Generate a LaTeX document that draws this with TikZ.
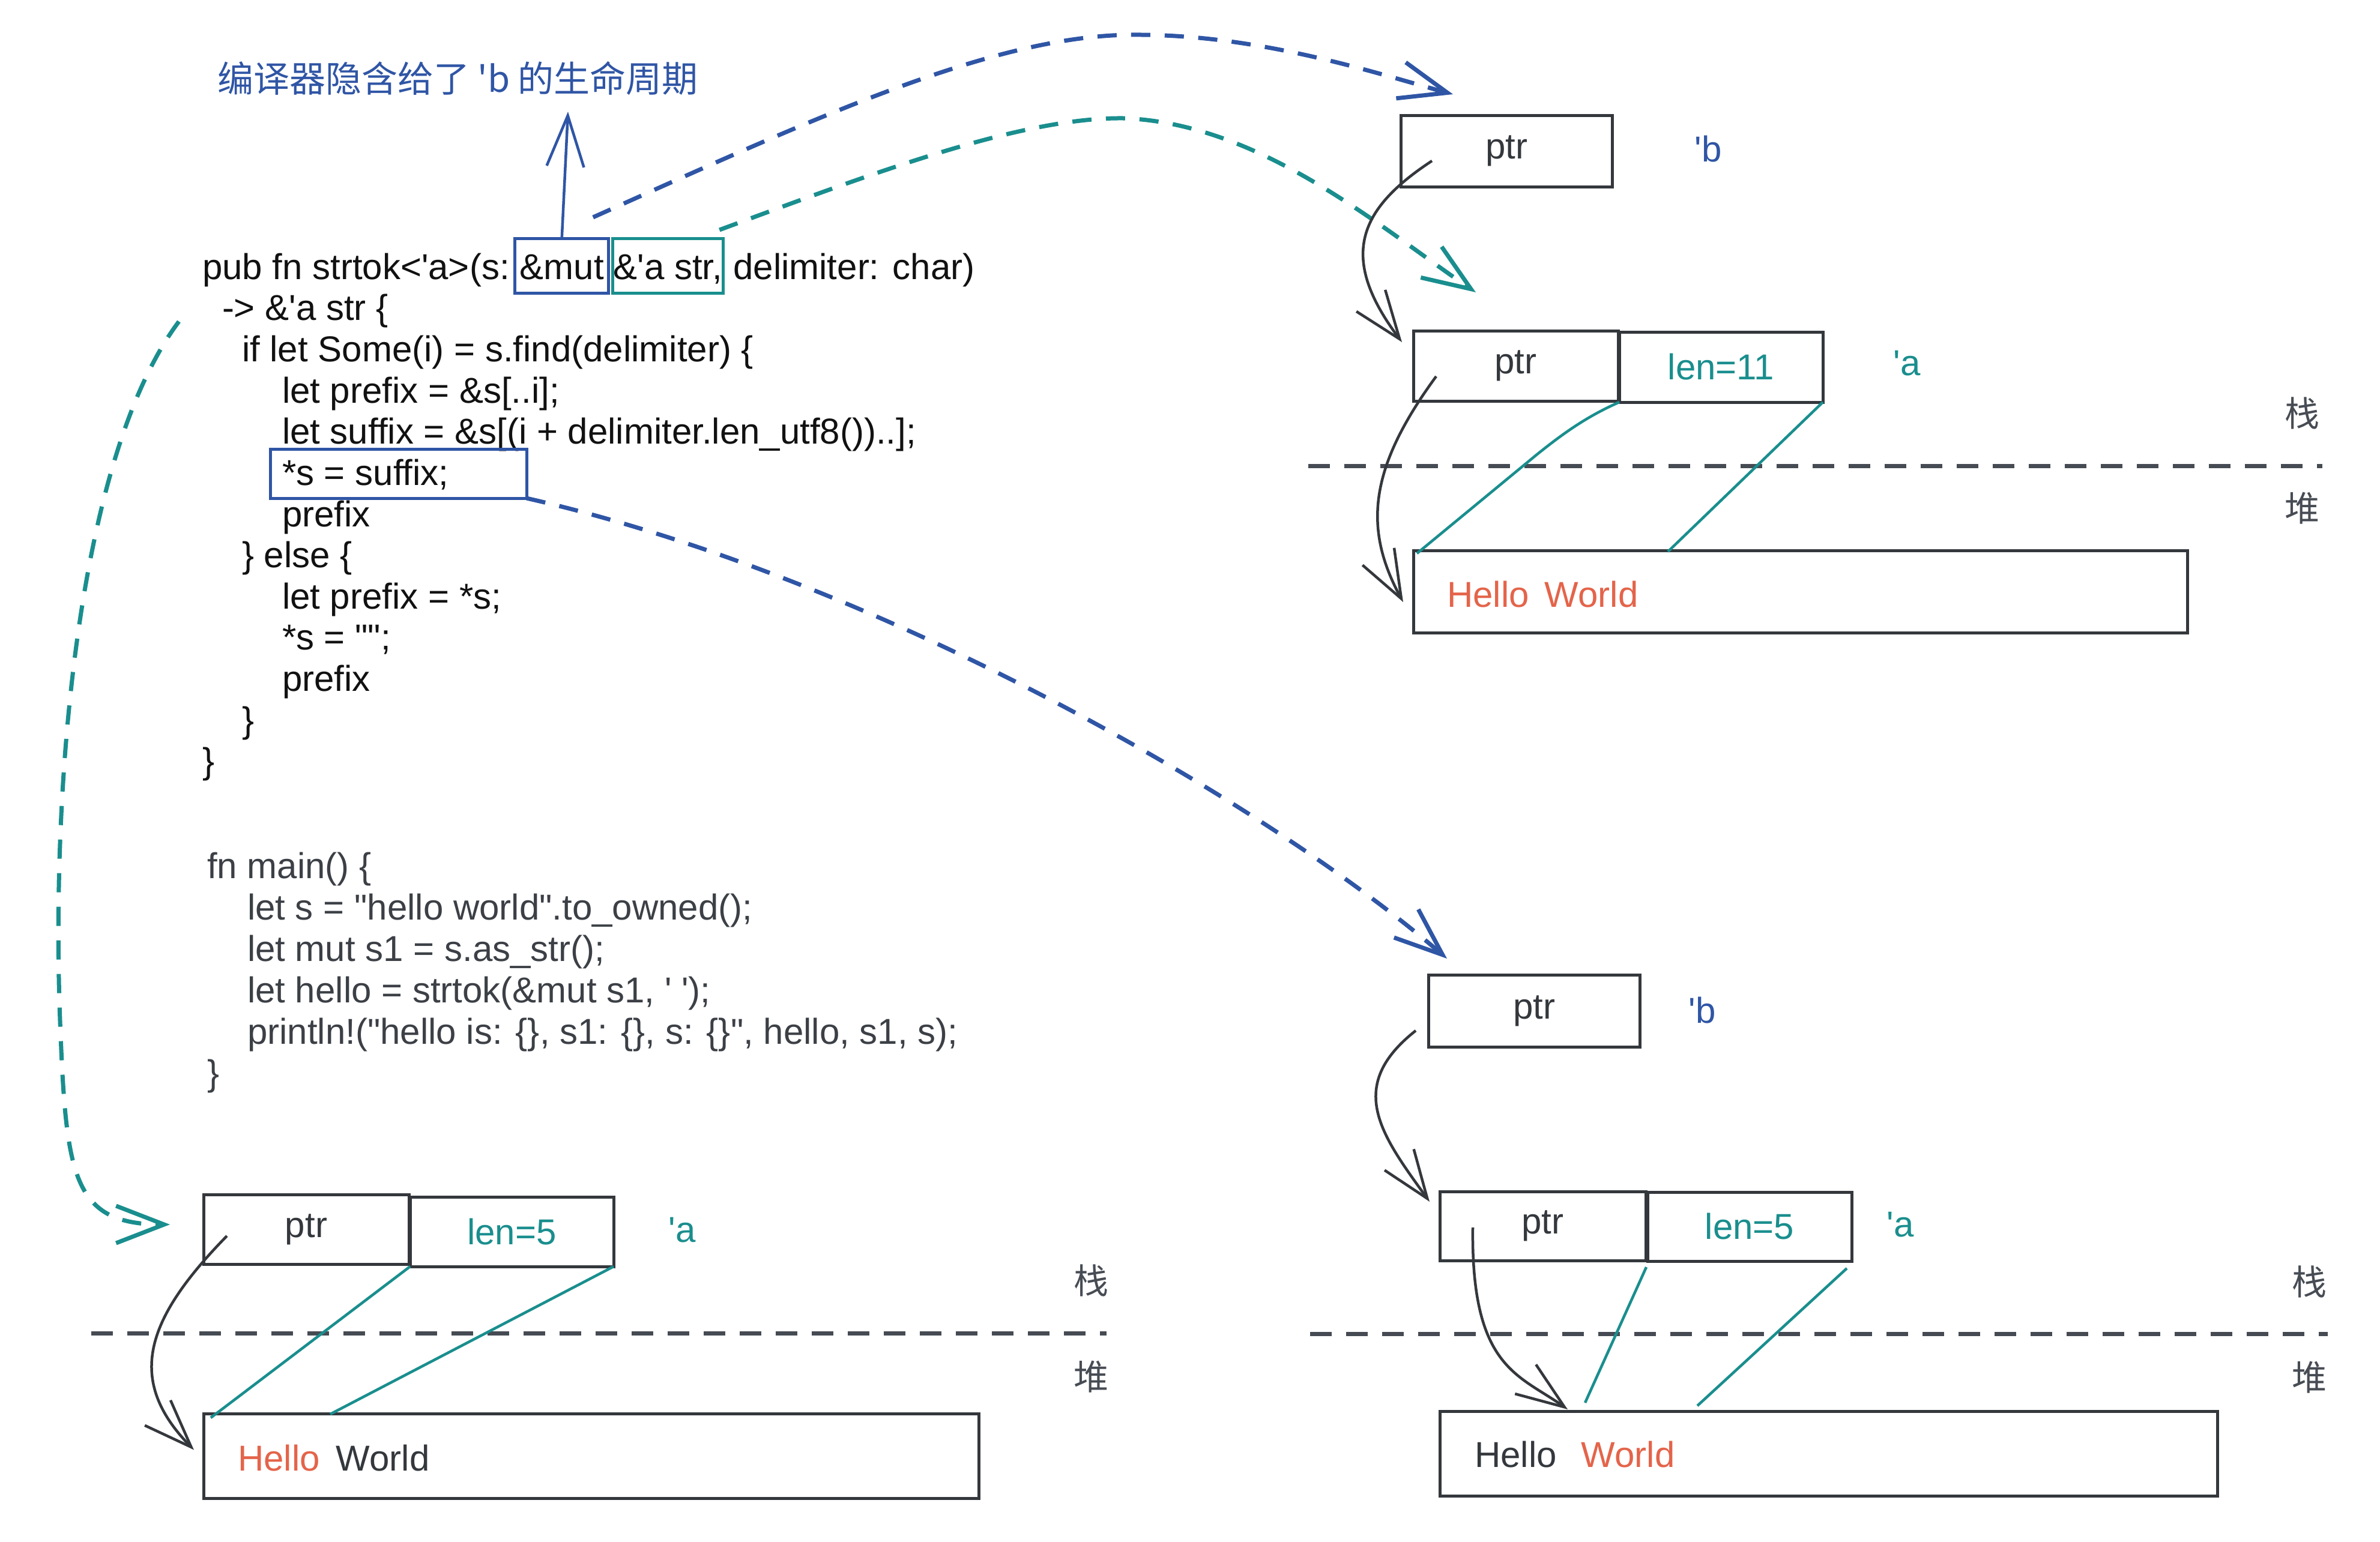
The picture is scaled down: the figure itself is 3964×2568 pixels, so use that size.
\documentclass[tikz,border=0pt]{standalone}
\usepackage{fontspec}
\usetikzlibrary{arrows.meta}
\newfontfamily\cf{Liberation Sans}
\newfontfamily\cjk{Noto Sans CJK SC}
\definecolor{myblue}{HTML}{2F55A5}
\definecolor{myteal}{HTML}{1A8E8E}
\definecolor{myorange}{HTML}{E4644A}
\definecolor{boxc}{HTML}{34383D}
\definecolor{codeblk}{HTML}{111111}
\definecolor{codegray}{HTML}{3C4046}
\definecolor{divc}{HTML}{464B53}
\definecolor{zhgray}{HTML}{474C54}
\begin{document}
\begin{tikzpicture}[x=1pt, y=-1pt,
 code/.style={font=\cf\fontsize{60}{72}\selectfont, anchor=base west, inner sep=0pt, outer sep=0pt, text=codeblk},
 codeg/.style={code, text=codegray},
 hibox/.style={draw=#1, line width=5pt, outer sep=0pt, inner ysep=0pt, text height=68pt, text depth=23pt},
 membox/.style={draw=boxc, line width=5pt, inner sep=0pt, outer sep=0pt, font=\cf\fontsize{60}{72}\selectfont, text=boxc},
 lbl/.style={font=\cf\fontsize{60}{72}\selectfont, inner sep=0pt, anchor=base},
 zh/.style={font=\cjk\fontsize{58}{70}\selectfont, inner sep=0pt, text=zhgray},
 divider/.style={draw=divc, line width=7pt, dash pattern=on 36pt off 24pt},
 bdash/.style={draw=myblue, line width=7pt, dash pattern=on 32pt off 24pt, -{Straight Barb[length=80pt,width=62pt]}},
 tdash/.style={bdash, draw=myteal},
 ptrarrow/.style={draw=boxc, line width=4.5pt, -{Straight Barb[length=80pt,width=60pt]}},
 tline/.style={draw=myteal, line width=4.5pt},
]
\useasboundingbox (0,0) rectangle (3964,2568);
\fill[white] (0,0) rectangle (3964,2568);

% title
\node[font=\cjk\fontsize{60}{72}\selectfont, text=myblue, inner sep=0pt, anchor=west] (title) at (362,131) {编译器隐含给了 'b 的生命周期};

% code block 1
\node[code] (c1a) at (337,465) {pub fn strtok<'a>(s:};
\node[code, hibox=myblue, inner xsep=8pt] (mutbox) at ([xshift=9pt]c1a.base east) {\&mut};
\node[code, hibox=myteal, inner xsep=1pt] (strbox) at ([xshift=7pt]mutbox.base east) {\&'a str,};
\node[code] (c1d) at ([xshift=17pt]strbox.base east) {delimiter: char)};
\node[code] (c2) at (370,533.6) {-> \&'a str \{};
\node[code] (c3) at (403,602) {if let Some(i) = s.find(delimiter) \{};
\node[code] (c4) at (470,671) {let prefix = \&s[..i];};
\node[code] (c5) at (470,739) {let suffix = \&s[(i + delimiter.len\_utf8())..];};
\node[code] (c6) at (470,808) {*s = suffix;};
\node[code] (c7) at (470,877) {prefix};
\node[code] (c8) at (403,945) {\} else \{};
\node[code] (c9) at (470,1014) {let prefix = *s;};
\node[code] (c10) at (470,1082) {*s = "";};
\node[code] (c11) at (470,1151) {prefix};
\node[code] (c12) at (403,1220) {\}};
\node[code] (c13) at (337,1288) {\}};
\node[draw=myblue, line width=5pt, inner sep=0pt, outer sep=0pt, anchor=north west, minimum width=427pt, minimum height=82pt] (sbox) at (450,748) {};

% code block 2
\node[codeg] (m1) at (345,1463) {fn main() \{};
\node[codeg] (m2) at (412,1532) {let s = "hello world".to\_owned();};
\node[codeg] (m3) at (412,1601) {let mut s1 = s.as\_str();};
\node[codeg] (m4) at (412,1670) {let hello = strtok(\&mut s1, ' ');};
\node[codeg] (m5) at (412,1739) {println!("hello is: \{\}, s1: \{\}, s: \{\}", hello, s1, s);};
\node[codeg] (m6) at (345,1808) {\}};

% top-right memory
\node[membox, minimum width=352pt, minimum height=119pt] (ptrB1) at (2509,251.5) {ptr};
\node[lbl, text=myblue] (lb1) at (2845,269) {'b};
\node[membox, minimum width=341pt, minimum height=117pt] (ptrA1) at (2524.5,609.5) {ptr};
\node[membox, minimum width=339pt, minimum height=117pt, text=myteal] (lenA1) at (2866.5,611.5) {len=11};
\node[lbl, text=myteal] (la1) at (3176,625) {'a};
\node[zh] (zhs1) at (3834,688) {栈};
\node[zh] (zhh1) at (3834,847) {堆};
\draw[divider] (2179,776) -- (3868,776);
\node[membox, minimum width=1289pt, minimum height=137pt] (heap1) at (2998.5,985.5) {};
\node[lbl, anchor=base west, text=myorange] (hw1) at (2410,1011) {Hello\hspace{26pt}World};

% bottom-left memory
\node[membox, minimum width=342pt, minimum height=116pt] (ptrL) at (510,2048) {ptr};
\node[membox, minimum width=339pt, minimum height=116pt, text=myteal] (lenL) at (852.5,2052) {len=5};
\node[lbl, text=myteal] (laL) at (1136,2069) {'a};
\node[zh] (zhsL) at (1817,2133) {栈};
\node[zh] (zhhL) at (1817,2294) {堆};
\draw[divider] (152,2221) -- (1843,2221);
\node[membox, minimum width=1291pt, minimum height=141pt] (heapL) at (984.5,2425.5) {};
\node[lbl, anchor=base west, text=boxc] (hwL) at (396,2450) {\textcolor{myorange}{Hello}\hspace{27pt}World};

% bottom-right memory
\node[membox, minimum width=352pt, minimum height=120pt] (ptrB2) at (2555,1684) {ptr};
\node[lbl, text=myblue] (lb2) at (2835,1704) {'b};
\node[membox, minimum width=343pt, minimum height=115pt] (ptrA2) at (2569.5,2042.5) {ptr};
\node[membox, minimum width=340pt, minimum height=115pt, text=myteal] (lenA2) at (2914,2043.5) {len=5};
\node[lbl, text=myteal] (la2) at (3165,2060) {'a};
\node[zh] (zhs2) at (3846,2135) {栈};
\node[zh] (zhh2) at (3846,2295) {堆};
\draw[divider] (2182,2222) -- (3877,2222);
\node[membox, minimum width=1295pt, minimum height=141pt] (heapR) at (3045.5,2421.5) {};
\node[lbl, anchor=base west, text=boxc] (hwR) at (2456,2444) {Hello\hspace{41pt}\textcolor{myorange}{World}};

% title arrow
\coordinate (ttip) at (946,186);
\draw[draw=myblue, line width=4.5pt, -{Straight Barb[length=85pt,width=62pt]}] (mutbox.north) -- (ttip);

% dashed connectors
\draw[bdash] ([shift={(-26,-35)}]mutbox.north east) .. controls (1350,200) and (1650,60) .. (1883,58) .. controls (2100,56) and (2300,125) .. ([shift={(87,-35)}]ptrB1.north west);
\draw[tdash] ([shift={(-6,-14)}]strbox.north east) .. controls (1450,290) and (1700,195) .. (1871,197) .. controls (2100,205) and (2300,380) .. ([shift={(104,-64)}]ptrA1.north west);
\draw[bdash] (sbox.south east) .. controls (1450,960) and (2100,1330) .. ([shift={(31,-27)}]ptrB2.north west);
\draw[tdash] ([shift={(-72,2)}]c2.base west) .. controls (130,760) and (85,1300) .. (100,1700) .. controls (110,1960) and (120,2040) .. ([shift={(-56,-8)}]ptrL.west);

% pointer arrows
\draw[ptrarrow] ([shift={(52,-43)}]ptrB1.south west) .. controls (2260,350) and (2230,430) .. ([shift={(-19,19)}]ptrA1.north west);
\draw[ptrarrow] ([shift={(38,-41)}]ptrA1.south west) .. controls (2280,780) and (2270,880) .. ([shift={(-17,17.5)}]heap1.west);
\draw[ptrarrow] ([shift={(39,-47)}]ptrL.south west) .. controls (240,2200) and (210,2300) .. ([shift={(-16,-10)}]heapL.west);
\draw[ptrarrow] ([shift={(-21,-27)}]ptrB2.south west) .. controls (2240,1810) and (2300,1890) .. ([shift={(-17,17)}]ptrA2.north west);
\draw[ptrarrow] ([shift={(55,2.5)}]ptrA2.west) .. controls (2450,2280) and (2530,2290) .. ([shift={(213,-3)}]heapR.north west);

% length lines
\draw[tline] (lenA1.south west) .. controls (2640,695) and (2600,725) .. (2560,757) -- ([shift={(6,5)}]heap1.north west);
\draw[tline] (lenA1.south east) -- ([shift={(424,2)}]heap1.north west);
\draw[tline] (lenL.south west) -- ([shift={(12,7)}]heapL.north west);
\draw[tline] (lenL.south east) -- ([shift={(211,1)}]heapL.north west);
\draw[tline] ([shift={(-2,10)}]lenA2.south west) -- ([shift={(242,-14)}]heapR.north west);
\draw[tline] ([shift={(-8,12)}]lenA2.south east) -- ([shift={(429,-9)}]heapR.north west);
\end{tikzpicture}
\end{document}
